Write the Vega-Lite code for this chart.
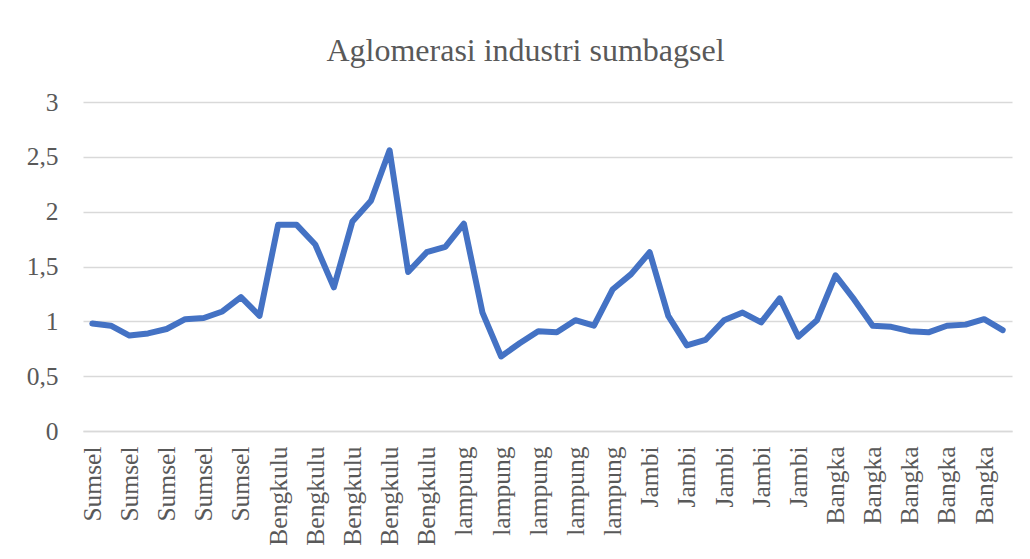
{
  "$schema": "https://vega.github.io/schema/vega-lite/v6.json",
  "width": 929,
  "height": 329,
  "autosize": "none",
  "padding": {"left": 83, "top": 102, "right": 18, "bottom": 128},
  "background": "white",
  "title": {
    "text": "Aglomerasi industri sumbagsel",
    "font": "Liberation Serif",
    "fontSize": 32,
    "fontWeight": "normal",
    "color": "#595959",
    "anchor": "middle",
    "dx": -22,
    "offset": 22
  },
  "data": {
    "values": [
      {"region": "Sumsel", "key": "Sumsel 1", "value": 0.98},
      {"region": "Sumsel", "key": "Sumsel 2", "value": 0.96},
      {"region": "Sumsel", "key": "Sumsel 3", "value": 0.87},
      {"region": "Sumsel", "key": "Sumsel 4", "value": 0.89},
      {"region": "Sumsel", "key": "Sumsel 5", "value": 0.93},
      {"region": "Sumsel", "key": "Sumsel 6", "value": 1.02},
      {"region": "Sumsel", "key": "Sumsel 7", "value": 1.03},
      {"region": "Sumsel", "key": "Sumsel 8", "value": 1.09},
      {"region": "Sumsel", "key": "Sumsel 9", "value": 1.22},
      {"region": "Sumsel", "key": "Sumsel 10", "value": 1.05},
      {"region": "Bengkulu", "key": "Bengkulu 1", "value": 1.88},
      {"region": "Bengkulu", "key": "Bengkulu 2", "value": 1.88},
      {"region": "Bengkulu", "key": "Bengkulu 3", "value": 1.70},
      {"region": "Bengkulu", "key": "Bengkulu 4", "value": 1.31},
      {"region": "Bengkulu", "key": "Bengkulu 5", "value": 1.91},
      {"region": "Bengkulu", "key": "Bengkulu 6", "value": 2.10},
      {"region": "Bengkulu", "key": "Bengkulu 7", "value": 2.56},
      {"region": "Bengkulu", "key": "Bengkulu 8", "value": 1.45},
      {"region": "Bengkulu", "key": "Bengkulu 9", "value": 1.63},
      {"region": "Bengkulu", "key": "Bengkulu 10", "value": 1.68},
      {"region": "lampung", "key": "lampung 1", "value": 1.89},
      {"region": "lampung", "key": "lampung 2", "value": 1.08},
      {"region": "lampung", "key": "lampung 3", "value": 0.68},
      {"region": "lampung", "key": "lampung 4", "value": 0.80},
      {"region": "lampung", "key": "lampung 5", "value": 0.91},
      {"region": "lampung", "key": "lampung 6", "value": 0.90},
      {"region": "lampung", "key": "lampung 7", "value": 1.01},
      {"region": "lampung", "key": "lampung 8", "value": 0.96},
      {"region": "lampung", "key": "lampung 9", "value": 1.29},
      {"region": "lampung", "key": "lampung 10", "value": 1.43},
      {"region": "Jambi", "key": "Jambi 1", "value": 1.63},
      {"region": "Jambi", "key": "Jambi 2", "value": 1.05},
      {"region": "Jambi", "key": "Jambi 3", "value": 0.78},
      {"region": "Jambi", "key": "Jambi 4", "value": 0.83},
      {"region": "Jambi", "key": "Jambi 5", "value": 1.01},
      {"region": "Jambi", "key": "Jambi 6", "value": 1.08},
      {"region": "Jambi", "key": "Jambi 7", "value": 0.99},
      {"region": "Jambi", "key": "Jambi 8", "value": 1.21},
      {"region": "Jambi", "key": "Jambi 9", "value": 0.86},
      {"region": "Jambi", "key": "Jambi 10", "value": 1.01},
      {"region": "Bangka", "key": "Bangka 1", "value": 1.42},
      {"region": "Bangka", "key": "Bangka 2", "value": 1.20},
      {"region": "Bangka", "key": "Bangka 3", "value": 0.96},
      {"region": "Bangka", "key": "Bangka 4", "value": 0.95},
      {"region": "Bangka", "key": "Bangka 5", "value": 0.91},
      {"region": "Bangka", "key": "Bangka 6", "value": 0.90},
      {"region": "Bangka", "key": "Bangka 7", "value": 0.96},
      {"region": "Bangka", "key": "Bangka 8", "value": 0.97},
      {"region": "Bangka", "key": "Bangka 9", "value": 1.02},
      {"region": "Bangka", "key": "Bangka 10", "value": 0.92}
    ]
  },
  "mark": {
    "type": "line",
    "color": "#4472C4",
    "strokeWidth": 6,
    "strokeJoin": "round",
    "strokeCap": "round"
  },
  "encoding": {
    "x": {
      "field": "key",
      "type": "ordinal",
      "sort": null,
      "scale": {"type": "point", "padding": 0.5},
      "axis": {
        "title": null,
        "values": ["Sumsel 1", "Sumsel 3", "Sumsel 5", "Sumsel 7", "Sumsel 9",
                   "Bengkulu 1", "Bengkulu 3", "Bengkulu 5", "Bengkulu 7", "Bengkulu 9",
                   "lampung 1", "lampung 3", "lampung 5", "lampung 7", "lampung 9",
                   "Jambi 1", "Jambi 3", "Jambi 5", "Jambi 7", "Jambi 9",
                   "Bangka 1", "Bangka 3", "Bangka 5", "Bangka 7", "Bangka 9"],
        "labelExpr": "split(datum.label, ' ')[0]",
        "labelAngle": -90,
        "labelFont": "Liberation Serif",
        "labelFontSize": 25.5,
        "labelColor": "#595959",
        "labelPadding": 15,
        "labelOverlap": false,
        "ticks": false,
        "domainColor": "#d9d9d9",
        "domainWidth": 1.5,
        "grid": false
      }
    },
    "y": {
      "field": "value",
      "type": "quantitative",
      "scale": {"domain": [0, 3]},
      "axis": {
        "title": null,
        "values": [0, 0.5, 1, 1.5, 2, 2.5, 3],
        "labelExpr": "replace(toString(datum.value), '.', ',')",
        "labelFont": "Liberation Serif",
        "labelFontSize": 25.5,
        "labelColor": "#595959",
        "labelPadding": 25,
        "ticks": false,
        "domain": false,
        "grid": true,
        "gridColor": "#d9d9d9",
        "gridWidth": 1.5
      }
    }
  },
  "config": {
    "view": {"stroke": null}
  }
}
